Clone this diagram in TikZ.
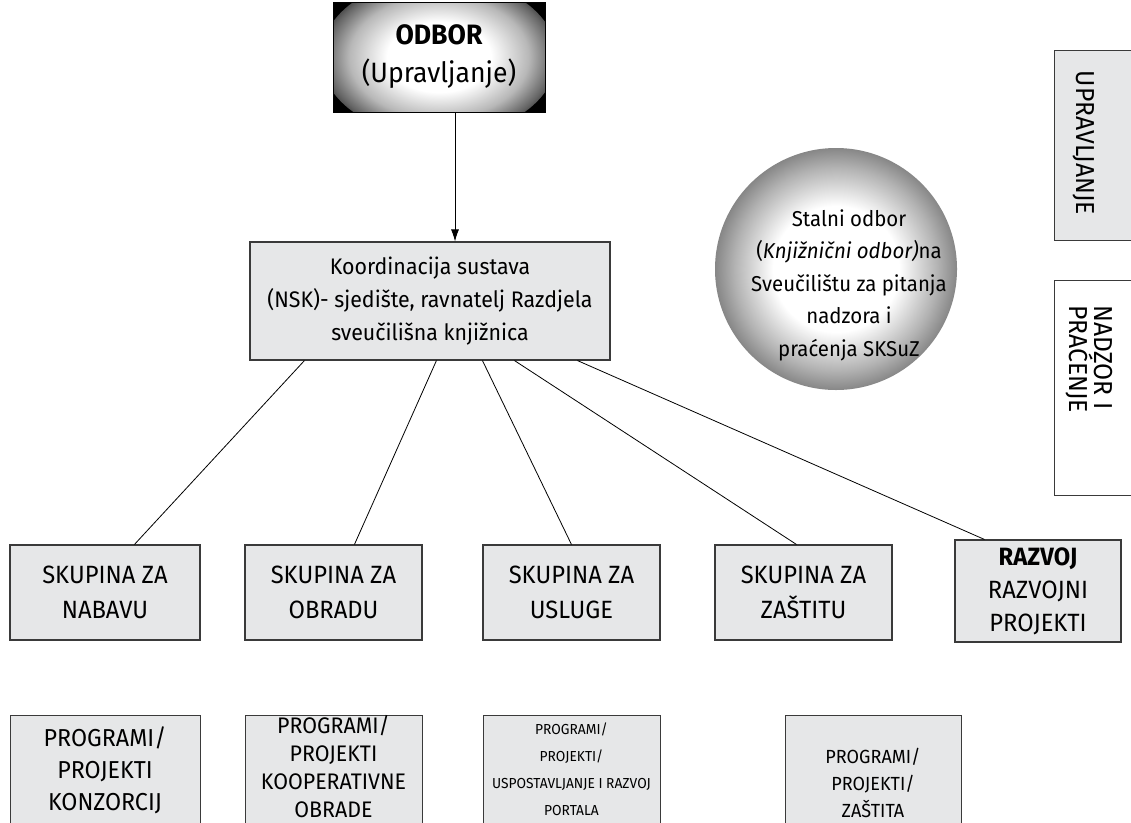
\documentclass[tikz,border=0pt]{standalone}
\usepackage{fontspec}
\setmainfont{Fira Sans}[FakeStretch=0.95]
\usetikzlibrary{arrows.meta,shadings}
\definecolor{boxgray}{HTML}{E6E7E8}
\definecolor{edgegray}{HTML}{3A3A3A}
\pgfdeclareradialshading{boxrad}{\pgfpoint{0bp}{0bp}}{color(0bp)=(white); color(11bp)=(white); color(19bp)=(black!28); color(24bp)=(black!60); color(27.5bp)=(black!88); color(30bp)=(black); color(50bp)=(black)}
\pgfdeclareradialshading{circrad}{\pgfpoint{0bp}{0bp}}{color(0bp)=(white); color(13bp)=(white); color(21bp)=(black!30); color(28bp)=(black!60); color(33bp)=(black!80); color(35.4bp)=(black!88); color(50bp)=(black!88)}
\tikzset{
  grpbox/.style={draw=edgegray, line width=1.1pt, fill=boxgray, minimum height=95pt, inner sep=0pt, align=center, font=\fontsize{25}{35}\selectfont},
  progbox/.style={draw=edgegray, line width=1.1pt, fill=boxgray, inner sep=0pt, anchor=north west, minimum height=130pt},
  sidebox/.style={draw=edgegray, line width=1.1pt, inner sep=0pt, anchor=north west},
  plaintext/.style={inner sep=0pt, align=center},
  link/.style={draw=black, line width=0.8pt},
}
\begin{document}
\begin{tikzpicture}[x=1pt,y=-1pt]
\clip (0,0) rectangle (1131,822);
\fill[white] (0,0) rectangle (1131,822);

% ODBOR
\node[draw=black, line width=0.8pt, fill=black, minimum width=212pt, minimum height=110pt, inner sep=0pt, align=center,
  path picture={\shade[shading=boxrad] (path picture bounding box.center) ellipse [x radius=118pt, y radius=80pt];},
  font=\fontsize{28}{38}\selectfont] (odbor) at (439,57) {\textbf{ODBOR}\\(Upravljanje)};

% Koordinacija
\node[draw=edgegray, line width=1.1pt, fill=boxgray, minimum width=360pt, minimum height=118pt, inner sep=0pt, align=center,
  font=\fontsize{22.5}{33}\selectfont] (koord) at (430,301) {Koordinacija sustava\\(NSK)- sjedište, ravnatelj Razdjela\\sveučilišna knjižnica};

\draw[link, -{Latex[length=12pt,width=8pt]}] (odbor.south) ++(16,0) coordinate (arrstart) -- (arrstart |- koord.north);

% circle
\node[circle, minimum size=242pt, inner sep=0pt, shading=circrad] (circ) at (836,269) {};
\node[plaintext, font=\fontsize{21.5}{32.5}\selectfont] (circtext) at (849,285) {Stalni odbor\\(\textit{Knjižnični odbor)}na\\Sveučilištu za pitanja\\nadzora i\\praćenja SKSuZ};

% side boxes
\node[sidebox, fill=boxgray, minimum width=110pt, minimum height=190pt] (upr) at (1054,50) {};
\node[plaintext, rotate=-90, font=\fontsize{26}{30}\selectfont] (uprtext) at (1084,143) {UPRAVLJANJE};
\node[sidebox, fill=white, minimum width=110pt, minimum height=215pt] (nad) at (1054,280) {};
\node[plaintext, rotate=-90, align=left, anchor=west, font=\fontsize{26}{25}\selectfont] (nadtext) at (1089.5,305) {NADZOR I\\PRAĆENJE};

% group boxes
\node[grpbox, minimum width=190pt] (nabavu) at (105,592.5) {SKUPINA ZA\\NABAVU};
\node[grpbox, minimum width=177pt] (obradu) at (333.5,592.5) {SKUPINA ZA\\OBRADU};
\node[grpbox, minimum width=177pt] (usluge) at (571.5,592.5) {SKUPINA ZA\\USLUGE};
\node[grpbox, minimum width=177pt] (zastitu) at (803.5,592.5) {SKUPINA ZA\\ZAŠTITU};
\node[grpbox, minimum width=166pt, minimum height=102pt, font=\fontsize{25}{33}\selectfont] (razvoj) at (1038,591) {\textbf{RAZVOJ}\\RAZVOJNI\\PROJEKTI};

% links
\draw[link] ([xshift=55pt]koord.south west) -- ([xshift=125pt]nabavu.north west);
\draw[link] ([xshift=187pt]koord.south west) -- ([xshift=110pt]obradu.north west);
\draw[link] ([xshift=233pt]koord.south west) -- ([xshift=89pt]usluge.north west);
\draw[link] ([xshift=265pt]koord.south west) -- ([xshift=82pt]zastitu.north west);
\draw[link] ([xshift=328pt]koord.south west) -- ([xshift=30pt]razvoj.north west);

% program boxes
\node[progbox, minimum width=190pt] (p1) at (10,715) {};
\node[plaintext, font=\fontsize{24.5}{32}\selectfont] (p1t) at (105,770) {PROGRAMI/\\PROJEKTI\\KONZORCIJ};
\node[progbox, minimum width=177pt] (p2) at (245,715) {};
\node[plaintext, font=\fontsize{22.5}{28}\selectfont] (p2t) at (333.5,767) {PROGRAMI/\\PROJEKTI\\KOOPERATIVNE\\OBRADE};
\node[progbox, minimum width=177pt] (p3) at (483,715) {};
\node[plaintext, font=\fontsize{14.5}{27}\selectfont] (p3t) at (571.5,769) {PROGRAMI/\\PROJEKTI/\\USPOSTAVLJANJE I RAZVOJ\\PORTALA};
\node[progbox, minimum width=176pt] (p4) at (785,715) {};
\node[plaintext, font=\fontsize{19}{27}\selectfont] (p4t) at (873,783) {PROGRAMI/\\PROJEKTI/\\ZAŠTITA};
\end{tikzpicture}
\end{document}
